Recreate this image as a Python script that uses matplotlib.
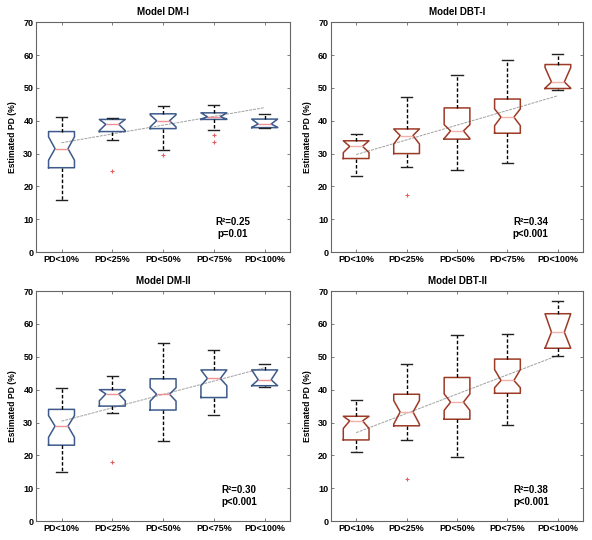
import matplotlib.pyplot as plt

plt.rcParams['font.family'] = ['Liberation Sans', 'DejaVu Sans']
plt.rcParams['font.weight'] = 'bold'

categories = ['PD<10%', 'PD<25%', 'PD<50%', 'PD<75%', 'PD<100%']
titles = ['Model DM-I', 'Model DBT-I', 'Model DM-II', 'Model DBT-II']
stats_text = ['R\u00b2=0.25\np=0.01', 'R\u00b2=0.34\np<0.001',
              'R\u00b2=0.30\np<0.001', 'R\u00b2=0.38\np<0.001']

# box statistics per panel: one value per category
dm1_med = [31.5, 38.9, 40.0, 41.2, 39.0]
dm1_q1 = [25.7, 36.7, 37.6, 40.4, 37.9]
dm1_q3 = [36.7, 40.4, 42.1, 42.4, 40.5]
dm1_lo = [15.9, 34.1, 31.2, 37.3, 37.8]
dm1_hi = [41.2, 40.9, 44.5, 44.8, 42.0]
dm1_cilo = [28.0, 37.0, 38.1, 40.5, 38.0]
dm1_cihi = [35.1, 40.4, 41.8, 42.4, 40.5]
dm1_out = [[], [24.8], [29.7], [35.8, 33.4], []]
dm1_trend = [33.3, 44.0]

dbt1_med = [32.2, 35.5, 36.9, 41.1, 51.8]
dbt1_q1 = [28.5, 30.0, 34.4, 36.2, 49.8]
dbt1_q3 = [33.9, 37.5, 43.9, 46.6, 57.1]
dbt1_lo = [23.3, 25.9, 25.0, 27.2, 49.2]
dbt1_hi = [35.9, 47.2, 53.9, 58.6, 60.2]
dbt1_cilo = [30.3, 32.9, 34.6, 38.5, 49.9]
dbt1_cihi = [33.9, 37.5, 38.8, 43.6, 56.2]
dbt1_out = [[], [17.4], [], [], []]
dbt1_trend = [29.7, 47.6]

dm2_med = [28.9, 38.7, 38.6, 43.4, 43.0]
dm2_q1 = [23.1, 35.0, 33.8, 37.6, 41.2]
dm2_q3 = [34.0, 40.0, 43.3, 46.0, 46.0]
dm2_lo = [15.0, 32.8, 24.5, 32.2, 40.9]
dm2_hi = [40.4, 44.2, 54.1, 52.0, 47.8]
dm2_cilo = [25.5, 36.6, 36.5, 41.2, 41.2]
dm2_cihi = [32.1, 40.0, 40.6, 46.0, 46.0]
dm2_out = [[], [17.9], [], [], []]
dm2_trend = [30.4, 46.7]

dbt2_med = [30.5, 33.2, 36.2, 42.8, 57.5]
dbt2_q1 = [24.7, 29.0, 31.0, 38.9, 52.6]
dbt2_q3 = [31.9, 38.6, 43.7, 49.3, 63.1]
dbt2_lo = [21.1, 24.7, 19.6, 29.2, 50.3]
dbt2_hi = [36.7, 47.8, 56.7, 57.0, 67.1]
dbt2_cilo = [28.2, 29.5, 33.7, 40.6, 52.6]
dbt2_cihi = [31.9, 36.7, 38.7, 46.1, 63.1]
dbt2_out = [[], [12.8], [], [], []]
dbt2_trend = [26.9, 50.4]

panels = [
    (dm1_med, dm1_q1, dm1_q3, dm1_lo, dm1_hi, dm1_cilo, dm1_cihi, dm1_out, dm1_trend),
    (dbt1_med, dbt1_q1, dbt1_q3, dbt1_lo, dbt1_hi, dbt1_cilo, dbt1_cihi, dbt1_out, dbt1_trend),
    (dm2_med, dm2_q1, dm2_q3, dm2_lo, dm2_hi, dm2_cilo, dm2_cihi, dm2_out, dm2_trend),
    (dbt2_med, dbt2_q1, dbt2_q3, dbt2_lo, dbt2_hi, dbt2_cilo, dbt2_cihi, dbt2_out, dbt2_trend),
]

box_colors = ['#3d5a8a', '#9c3a26', '#3d5a8a', '#9c3a26']
med_colors = ['#f09090', '#f2b0a8', '#f09090', '#f2b0a8']
text_x = [4.37, 4.46, 4.5, 4.47]
rects = [[0.061, 0.533, 0.429, 0.426], [0.559, 0.533, 0.426, 0.426],
         [0.061, 0.035, 0.429, 0.426], [0.559, 0.035, 0.426, 0.426]]

fig = plt.figure(figsize=(5.92, 5.4), dpi=100)

for i, p in enumerate(panels):
    med, q1, q3, lo, hi, cilo, cihi, out, trend = p
    ax = fig.add_axes(rects[i])
    bstats = []
    for k in range(len(categories)):
        bstats.append({'med': med[k], 'q1': q1[k], 'q3': q3[k],
                       'whislo': lo[k], 'whishi': hi[k],
                       'cilo': cilo[k], 'cihi': cihi[k], 'fliers': out[k]})
    positions = list(range(1, len(categories) + 1))
    ax.bxp(bstats, positions=positions, widths=0.51, capwidths=0.22,
           shownotches=True,
           boxprops=dict(color=box_colors[i], linewidth=1.1),
           medianprops=dict(color=med_colors[i], linewidth=1.0),
           whiskerprops=dict(color='black', linestyle=(0, (2.5, 1.5)), linewidth=1.0),
           capprops=dict(color='#222222', linewidth=1.0),
           flierprops=dict(marker='+', markeredgecolor='#e06060',
                           markersize=3.5, markeredgewidth=0.8, linestyle='none'))

    # linear trend across groups
    ax.plot([positions[0], positions[-1]], trend, color='#a0a0a0',
            linewidth=0.7, linestyle=(0, (3, 1)), zorder=1)

    ax.text(text_x[i], 7.5, stats_text[i], ha='center', va='center',
            fontsize=7, fontweight='bold', linespacing=1.25)

    ax.set_xlim(0.5, 5.5)
    ax.set_ylim(0, 70)
    ax.set_yticks(range(0, 71, 10))
    ax.set_xticks(positions)
    ax.set_xticklabels(categories)
    ax.tick_params(direction='in', length=2.5, width=0.6, color='#666666',
                   labelsize=6.5, top=True, right=True, pad=2)
    for lab in ax.get_xticklabels() + ax.get_yticklabels():
        lab.set_fontweight('bold')
    for s in ax.spines.values():
        s.set_color('#666666')
        s.set_linewidth(0.8)
    ax.set_title(titles[i], fontsize=7, fontweight='bold', pad=5)
    ax.set_ylabel('Estimated PD (%)', fontsize=6.2, fontweight='bold', labelpad=4.5)

fig.savefig('out.png', dpi=100)
